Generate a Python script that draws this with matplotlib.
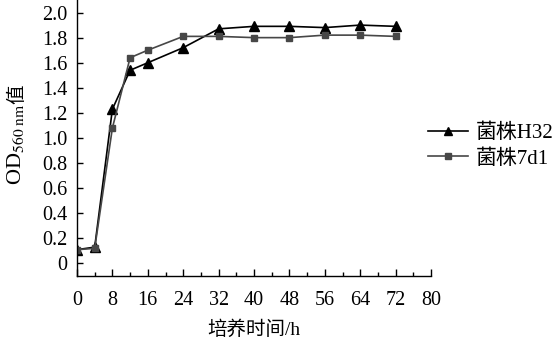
import matplotlib
matplotlib.use("Agg")
import matplotlib.pyplot as plt
from matplotlib.ticker import MultipleLocator

plt.rcParams['font.family'] = ['Liberation Serif', 'Noto Sans CJK SC']
plt.rcParams['mathtext.fontset'] = 'stix'

hours = [0, 4, 8, 12, 16, 24, 32, 40, 48, 56, 64, 72]
h32 = [0.11, 0.13, 1.23, 1.54, 1.60, 1.72, 1.87, 1.89, 1.89, 1.88, 1.90, 1.89]
s7d1 = [0.11, 0.12, 1.08, 1.64, 1.70, 1.81, 1.81, 1.80, 1.80, 1.82, 1.82, 1.81]
name_h32 = "菌株H32"
name_7d1 = "菌株7d1"
xlabel = "培养时间/h"
ylabel_od = "OD$_{\\mathrm{560\\ nm}}$"
ylabel_tail = "值"

fig = plt.figure(figsize=(5.53, 3.47), dpi=100)
ax = fig.add_axes([77/553, 1-276/347, (431-77)/553, 276/347])

ax.plot(hours, h32, color='black', marker='^', markersize=6.5, linewidth=1.2, label=name_h32)
ax.plot(hours, s7d1, color='#474747', marker='s', markersize=5, linewidth=1.2, label=name_7d1)

ax.set_xlim(0, 80)
ax.set_ylim(-0.1, 2.1)
ax.xaxis.set_major_locator(MultipleLocator(8))
ax.xaxis.set_minor_locator(MultipleLocator(4))
ax.set_yticks([0, 0.2, 0.4, 0.6, 0.8, 1.0, 1.2, 1.4, 1.6, 1.8, 2.0])
ax.set_yticklabels(['0', '0.2', '0.4', '0.6', '0.8', '1.0', '1.2', '1.4', '1.6', '1.8', '2.0'])
ax.tick_params(axis='both', which='both', direction='in', labelsize=14.5, width=1)
ax.tick_params(axis='x', which='major', length=5, pad=11)
ax.tick_params(axis='x', which='minor', length=3)
ax.tick_params(axis='y', which='major', length=4, pad=7)
for s in ['top', 'right']:
    ax.spines[s].set_visible(False)
for s in ['left', 'bottom']:
    ax.spines[s].set_linewidth(1)

ax.set_xlabel(xlabel, fontsize=14, labelpad=7)

yj = 1 - 104/347
fig.text(15/553, yj, ylabel_od, rotation=90, ha='center', va='top', fontsize=16)
fig.text(17/553, yj, ylabel_tail, rotation=90, ha='center', va='bottom', fontsize=14)

leg = fig.legend(loc='center left', bbox_to_anchor=(428/553, 1-146/347), frameon=False,
                 fontsize=15, handlelength=1.9, handletextpad=0.4, labelspacing=0.3,
                 borderaxespad=0, borderpad=0, markerscale=0.85)

fig.savefig('out.png', dpi=100)
